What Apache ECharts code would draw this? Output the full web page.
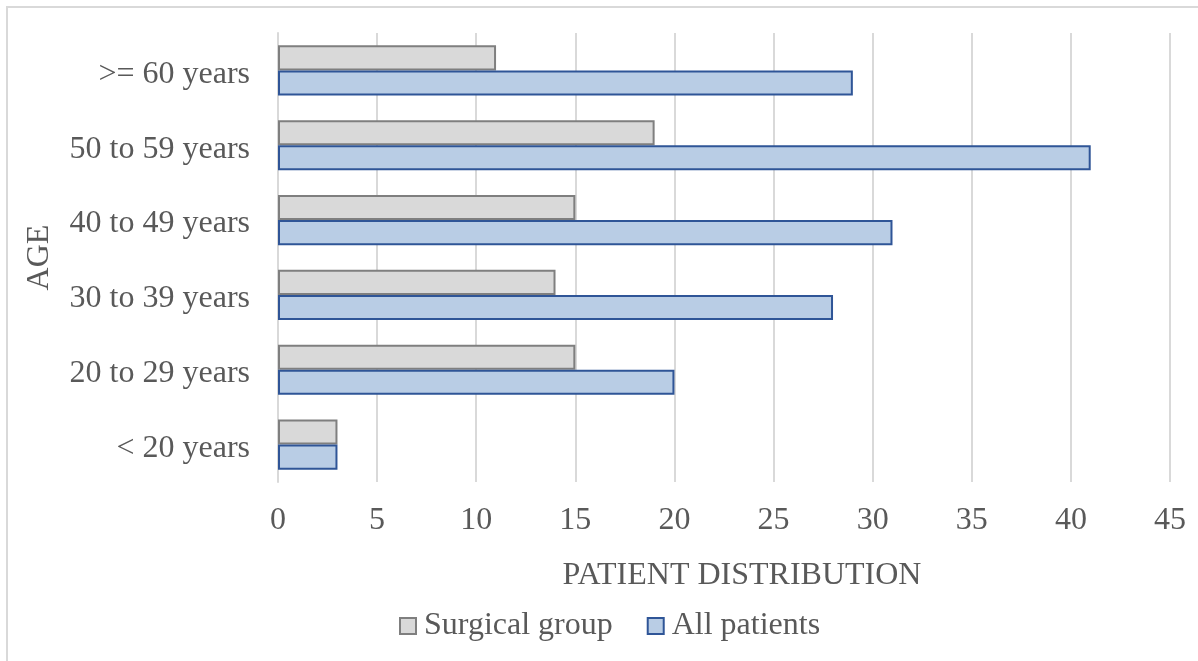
<!DOCTYPE html>
<html>
<head>
<meta charset="utf-8">
<script src="https://cdn.jsdelivr.net/npm/echarts@6/dist/echarts.min.js"></script>
<style>
  html, body { margin: 0; padding: 0; background: #fff; }
  #chart { width: 1198px; height: 661px; }
</style>
</head>
<body>
<div id="chart"></div>
<script>
// Age bands, listed bottom to top
const ageGroups = ['< 20 years', '20 to 29 years', '30 to 39 years', '40 to 49 years', '50 to 59 years', '>= 60 years'];
const surgicalGroup = [3, 15, 14, 15, 19, 11];
const allPatients = [3, 20, 28, 31, 41, 29];
const xTicks = { min: 0, max: 45, interval: 5 };

const FONT = '"Liberation Serif", "Times New Roman", serif';
const TEXT = '#595959';
const SIZE = 32;

const chart = echarts.init(document.getElementById('chart'), null, { renderer: 'canvas' });
chart.setOption({
  animation: false,
  backgroundColor: '#ffffff',
  textStyle: { fontFamily: FONT, color: TEXT },
  graphic: [{
    type: 'rect',
    shape: { x: 7, y: 7, width: 1220, height: 700 },
    style: { fill: 'none', stroke: '#d9d9d9', lineWidth: 2 },
    silent: true
  }],
  grid: { left: 278, right: 28, top: 33, bottom: 179, containLabel: false },
  legend: {
    data: ['Surgical group', 'All patients'],
    bottom: 14,
    left: 394,
    icon: 'rect',
    itemWidth: 16,
    itemHeight: 16,
    itemGap: 34,
    textStyle: { fontFamily: FONT, fontSize: SIZE, color: TEXT, padding: [0, 0, 0, 3] }
  },
  xAxis: {
    type: 'value',
    min: xTicks.min,
    max: xTicks.max,
    interval: xTicks.interval,
    name: 'PATIENT DISTRIBUTION',
    nameLocation: 'middle',
    nameGap: 78,
    nameTextStyle: { fontFamily: FONT, fontSize: SIZE, color: TEXT, padding: [0, 0, 0, 36] },
    axisLine: { show: false },
    axisTick: { show: false },
    axisLabel: { fontFamily: FONT, fontSize: SIZE, color: TEXT, margin: 23 },
    splitLine: { show: true, lineStyle: { color: '#d9d9d9', width: 2 } }
  },
  yAxis: {
    type: 'category',
    data: ageGroups,
    name: 'AGE',
    nameLocation: 'middle',
    nameGap: 222,
    nameRotate: 90,
    nameTextStyle: { fontFamily: FONT, fontSize: SIZE, color: TEXT },
    axisLine: { show: true, lineStyle: { color: '#d9d9d9', width: 2 } },
    axisTick: { show: false },
    axisLabel: {
      margin: 28,
      formatter: '{t|{value}}',
      rich: { t: { fontFamily: FONT, fontSize: SIZE, color: TEXT, padding: [8, 0, 0, 0] } }
    }
  },
  series: [
    {
      name: 'Surgical group',
      type: 'bar',
      data: surgicalGroup,
      barGap: '0%',
      barCategoryGap: '33%',
      itemStyle: { color: '#d9d9d9', borderColor: '#7f7f7f', borderWidth: 2 }
    },
    {
      name: 'All patients',
      type: 'bar',
      data: allPatients,
      barGap: '0%',
      barCategoryGap: '33%',
      itemStyle: { color: '#b9cde5', borderColor: '#2f5597', borderWidth: 2 }
    }
  ]
});
</script>
</body>
</html>
